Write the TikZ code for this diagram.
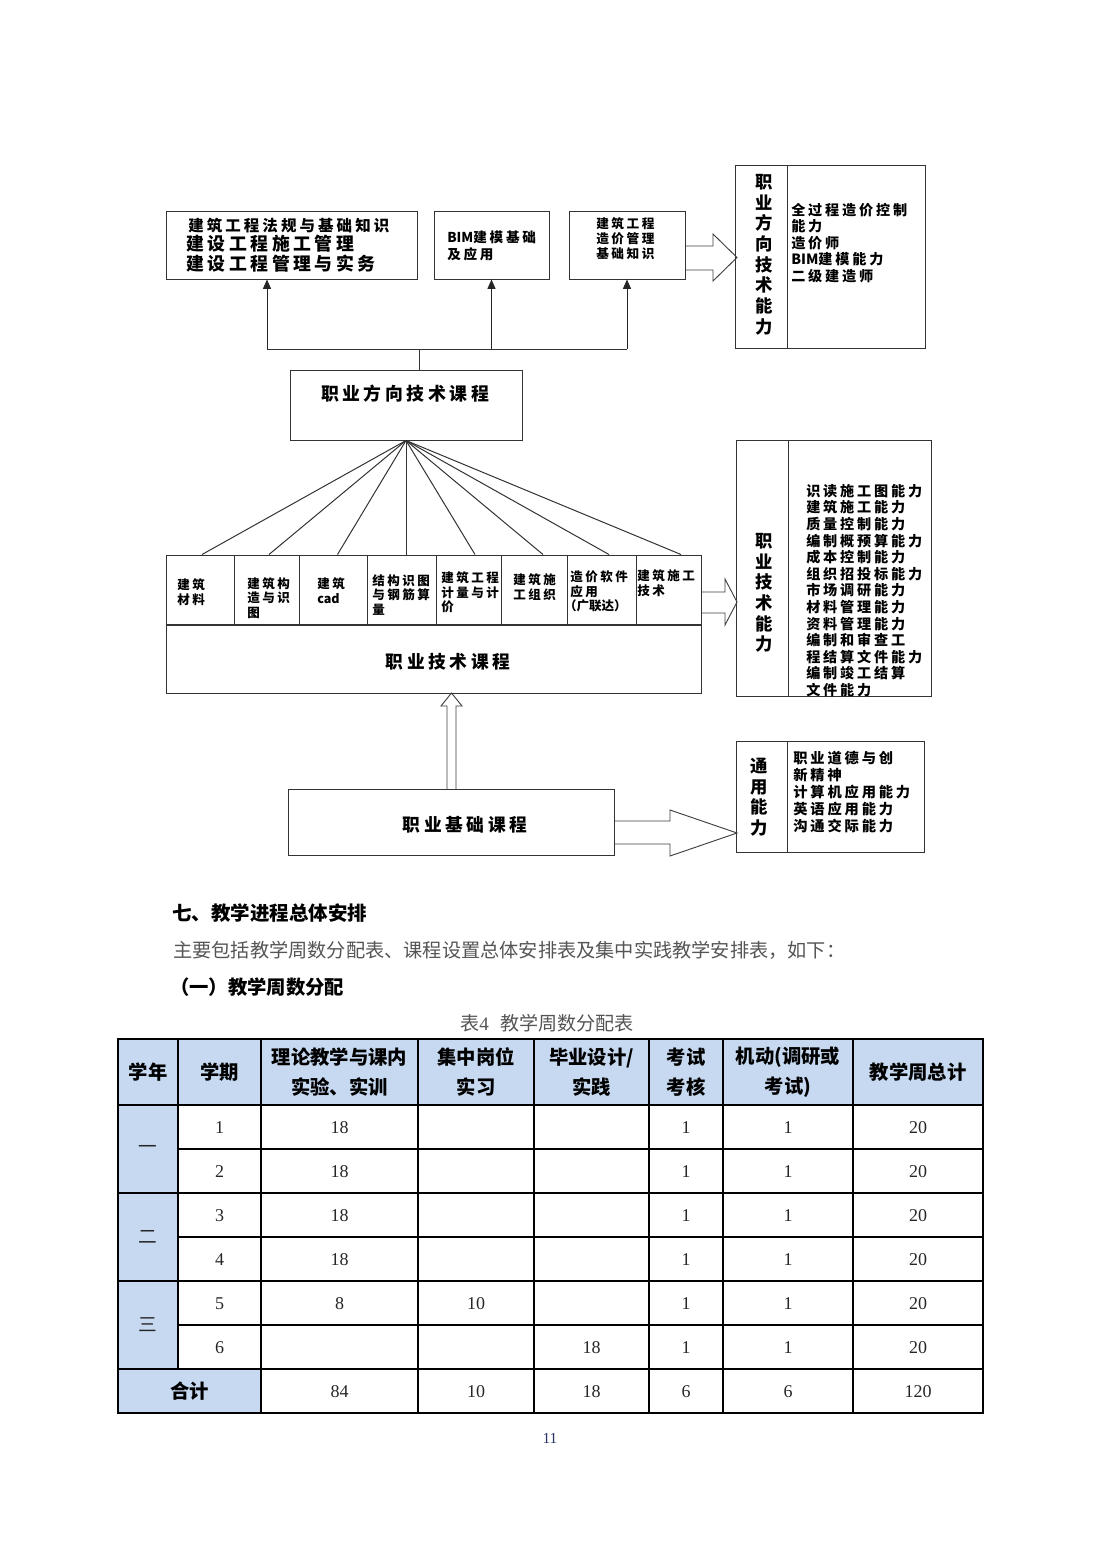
\documentclass[tikz,border=0pt]{standalone}
\usepackage{fontspec}
\setmainfont{Liberation Serif}
\newfontfamily\cjk{Noto Sans CJK SC}
\newfontfamily\dg[LetterSpace=20]{Noto Sans CJK SC}
\usetikzlibrary{arrows.meta,fit,calc}
\definecolor{hdrblue}{RGB}{198,217,241}
\definecolor{txtgray}{RGB}{85,85,85}
\definecolor{pgnum}{RGB}{40,50,100}
\newcommand{\myfs}[2]{\fontsize{#1}{#2}\selectfont}
\newcommand{\tight}[1]{{\cjk\bfseries #1}}
\newcommand\trow[8]{%
 \node[num] (r#1c2) at (219.5,#1) {#2};
 \node[num] (r#1c3) at (339.5,#1) {#3};
 \node[num] (r#1c4) at (476,#1) {#4};
 \node[num] (r#1c5) at (591.5,#1) {#5};
 \node[num] (r#1c6) at (686,#1) {#6};
 \node[num] (r#1c7) at (788,#1) {#7};
 \node[num] (r#1c8) at (918,#1) {#8};}
\begin{document}
\begin{tikzpicture}[x=0.75pt,y=-0.75pt,
  box/.style={draw=black!80, line width=0.75pt, inner sep=0pt},
  ln/.style={draw=black!80, line width=0.75pt},
  arr/.style={draw=black!85, line width=0.75pt, -{Triangle[width=6pt,length=7pt]}},
  blk/.style={draw=black!75, line width=0.7pt, line join=miter},
  lbl/.style={inner sep=0pt, align=left, anchor=west, font=\dg\bfseries},
  vert/.style={inner sep=0pt, align=center, font=\cjk\bfseries\myfs{13}{15.5}},
  ctr/.style={inner sep=0pt, align=center, font=\dg\bfseries\myfs{13.4}{16}},
  hd/.style={inner sep=0pt, align=center, font=\cjk\bfseries\myfs{14.5}{22.5}},
  num/.style={inner sep=0pt, font=\rmfamily\myfs{13.5}{16}, text=black!85},
  tl/.style={draw=black, line width=1.6pt}
]
\useasboundingbox (0,0) rectangle (1102,1559);
\fill[white] (0,0) rectangle (1102,1559);

% ---------- top row ----------
\node[box, fit={(166,211)(417,279)}] (A) {};
\node[lbl, font=\dg\bfseries\myfs{11.6}{14}] (A1) at (188,226) {建筑工程法规与基础知识};
\node[lbl, font=\dg\bfseries\myfs{13.4}{16}] (A2) at (186,244) {建设工程施工管理};
\node[lbl, font=\dg\bfseries\myfs{13.4}{16}] (A3) at (186,264) {建设工程管理与实务};

\node[box, fit={(434,211)(549,279)}] (B) {};
\node[lbl, font=\dg\bfseries\myfs{10.2}{12.75}] (Bt) at (447,245.5) {\tight{BIM}建模基础\\及应用};

\node[box, fit={(569,211)(685,279)}] (C) {};
\node[lbl, font=\dg\bfseries\myfs{9.5}{11.25}] (Ct) at (596,239) {建筑工程\\造价管理\\基础知识};

\node[box, fit={(735,166)(925,348)}] (R1) {};
\draw[ln] ($(R1.north west)+(53,0)$) -- ($(R1.south west)+(53,0)$);
\node[vert] (R1v) at (764,254.5) {职\\业\\方\\向\\技\\术\\能\\力};
\node[lbl, font=\dg\bfseries\myfs{10.6}{12.4}] (R1t) at (791,243) {全过程造价控制\\能力\\造价师\\\tight{BIM}建模能力\\二级建造师};

% ---------- direction course ----------
\node[box, fit={(290,370)(522,440)}] (D) {};
\node[ctr] (Dt) at (405,394) {职业方向技术课程};

\coordinate (J) at (419,349);
\coordinate (JL) at (267,349);
\coordinate (JR) at (C.south |- J);
\draw[ln] (J) -- (J |- D.north);
\draw[ln] (JL) -- (JR);
\draw[arr] (JL) -- (JL |- A.south);
\draw[arr] (B.south |- J) -- (B.south);
\draw[arr] (JR) -- (C.south);

% hollow arrow C -> R1
\draw[blk] (C.east |- 0,246) -- (713,246) -- (713,234) -- (737,257.5) -- (713,281) -- (713,270) -- (C.east |- 0,270);

% ---------- technical course ----------
\node[box, fit={(166,555)(701,693)}] (T) {};
\draw[ln] ($(T.north west)+(0,70)$) -- ($(T.north east)+(0,70)$);
\node[box, fit={(166,555)(234,625)}] (s1) {};
\node[box, fit={(234,555)(299,625)}] (s2) {};
\node[box, fit={(299,555)(367,625)}] (s3) {};
\node[box, fit={(367,555)(436,625)}] (s4) {};
\node[box, fit={(436,555)(501,625)}] (s5) {};
\node[box, fit={(501,555)(567,625)}] (s6) {};
\node[box, fit={(567,555)(636,625)}] (s7) {};
\node[box, fit={(636,555)(701,625)}] (s8) {};
\tikzset{sl/.style={lbl, font=\dg\bfseries\myfs{9.4}{11}}}
\node[sl] (s1t) at (177,592.5) {建筑\\材料};
\node[sl] (s2t) at (247,598) {建筑构\\造与识\\图};
\node[sl] (s3t) at (317,590.5) {建筑\\\tight{cad}};
\node[sl] (s4t) at (372,595) {结构识图\\与钢筋算\\量};
\node[sl] (s5t) at (441,592.5) {建筑工程\\计量与计\\价};
\node[sl] (s6t) at (513,587) {建筑施\\工组织};
\node[sl] (s7t) at (570,591.5) {造价软件\\应用\\\hspace*{-0.5em}\tight{（广联达）}};
\node[sl] (s8t) at (637,583) {建筑施工\\技术};

\draw[ln] (D.south) -- ($(s1.north)+(2,0)$);
\draw[ln] (D.south) -- ($(s2.north)+(2.5,0)$);
\draw[ln] (D.south) -- ($(s3.north)+(4.5,0)$);
\draw[ln] (D.south) -- ($(s4.north)+(4.5,0)$);
\draw[ln] (D.south) -- ($(s5.north)+(6.5,0)$);
\draw[ln] (D.south) -- ($(s6.north)+(9,0)$);
\draw[ln] (D.south) -- ($(s7.north)+(7.5,0)$);
\draw[ln] (D.south) -- ($(s8.north)+(12.5,0)$);

\node[ctr, font=\dg\bfseries\myfs{13.3}{16}] (Tt) at (448,662) {职业技术课程};

\node[box, fit={(736,440)(931,696)}] (R2) {};
\draw[ln] ($(R2.north west)+(53,0)$) -- ($(R2.south west)+(53,0)$);
\node[vert] (R2v) at (764,593) {职\\业\\技\\术\\能\\力};
\node[lbl, font=\dg\bfseries\myfs{10.6}{12.45}] (R2t) at (806,590.5) {识读施工图能力\\建筑施工能力\\质量控制能力\\编制概预算能力\\成本控制能力\\组织招投标能力\\市场调研能力\\材料管理能力\\资料管理能力\\编制和审查工\\程结算文件能力\\编制竣工结算\\文件能力};

% hollow arrow T -> R2
\draw[blk] (T.east |- 0,592) -- (725,592) -- (725,579) -- (737,602) -- (725,625) -- (725,613) -- (T.east |- 0,613);

% ---------- basic course ----------
\node[box, fit={(288,789)(614,855)}] (E) {};
\node[ctr, font=\dg\bfseries\myfs{13.3}{16}] (Et) at (465,825) {职业基础课程};

% hollow arrow E -> T (up)
\draw[blk] (447,789) -- (447,706) -- (441,706) -- (451.5,693) -- (462,706) -- (456,706) -- (456,789);

\node[box, fit={(736,741)(924,852)}] (R3) {};
\draw[ln] ($(R3.north west)+(52,0)$) -- ($(R3.south west)+(52,0)$);
\node[vert] (R3v) at (759,797) {通\\用\\能\\力};
\node[lbl, font=\dg\bfseries\myfs{10.7}{12.75}] (R3t) at (793,792) {职业道德与创\\新精神\\计算机应用能力\\英语应用能力\\沟通交际能力};

% hollow arrow E -> R3
\draw[blk] (E.east |- 0,821) -- (670,821) -- (670,810) -- (737,833) -- (670,856) -- (670,844) -- (E.east |- 0,844);

% ---------- text ----------
\node[inner sep=0pt, anchor=west, font=\cjk\bfseries\myfs{14.6}{17}] (H1) at (172,913) {七、教学进程总体安排};
\node[inner sep=0pt, anchor=west, font=\cjk\myfs{14.4}{17}, text=txtgray] (H2) at (173,950) {主要包括教学周数分配表、课程设置总体安排表及集中实践教学安排表，如下：};
\node[inner sep=0pt, anchor=west, font=\cjk\bfseries\myfs{14.5}{17}] (H3) at (170,987) {（一）教学周数分配};
\node[inner sep=0pt, font=\cjk\myfs{14.3}{17}, text=txtgray] (Cap) at (547,1023) {表{\rmfamily 4}\hspace{0.6em}教学周数分配表};

% ---------- table ----------
\fill[hdrblue] (118,1039) rectangle (983,1105);
\fill[hdrblue] (118,1105) rectangle (178,1369);
\fill[hdrblue] (118,1369) rectangle (261,1413);
\foreach \x in {261,418,534,649,723,853} \draw[tl] (\x,1039) -- (\x,1413);
\draw[tl] (178,1039) -- (178,1369);
\foreach \y in {1105,1193,1281,1369} \draw[tl] (118,\y) -- (983,\y);
\foreach \y in {1149,1237,1325} \draw[tl] (178,\y) -- (983,\y);
\draw[tl] (118,1039) rectangle (983,1413);

\node[hd] (h1) at (148,1072) {学年};
\node[hd] (h2) at (219.5,1072) {学期};
\node[hd] (h3) at (339.5,1072) {理论教学与课内\\实验、实训};
\node[hd] (h4) at (476,1072) {集中岗位\\实习};
\node[hd] (h5) at (591.5,1072) {毕业设计/\\实践};
\node[hd] (h6) at (686,1072) {考试\\考核};
\node[hd] (h7) at (788,1072) {机动(调研或\\考试)};
\node[hd] (h8) at (918,1072) {教学周总计};

\node[num, font=\cjk\myfs{14}{16}] (y1) at (148,1149) {一};
\node[num, font=\cjk\myfs{14}{16}] (y2) at (148,1237) {二};
\node[num, font=\cjk\myfs{14}{16}] (y3) at (148,1325) {三};
\node[hd] (tot) at (189.5,1391) {合计};

\trow{1128}{1}{18}{}{}{1}{1}{20}
\trow{1172}{2}{18}{}{}{1}{1}{20}
\trow{1216}{3}{18}{}{}{1}{1}{20}
\trow{1260}{4}{18}{}{}{1}{1}{20}
\trow{1304}{5}{8}{10}{}{1}{1}{20}
\trow{1348}{6}{}{}{18}{1}{1}{20}
\node[num] (t3) at (339.5,1392) {84};
\node[num] (t4) at (476,1392) {10};
\node[num] (t5) at (591.5,1392) {18};
\node[num] (t6) at (686,1392) {6};
\node[num] (t7) at (788,1392) {6};
\node[num] (t8) at (918,1392) {120};

\node[inner sep=0pt, font=\rmfamily\myfs{11.5}{13}, text=pgnum] (pg) at (550,1438) {11};
\end{tikzpicture}
\end{document}
